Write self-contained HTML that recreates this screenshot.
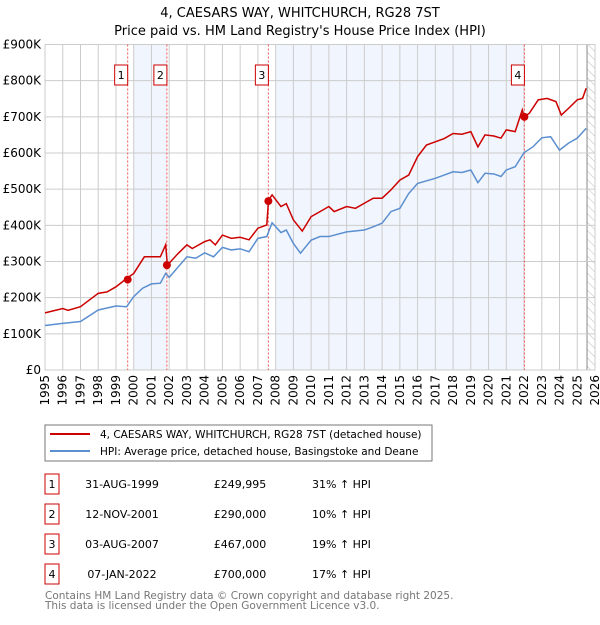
<!DOCTYPE html>
<html><head><meta charset="utf-8"><style>
body{margin:0;background:#fff;font-family:"Liberation Sans","DejaVu Sans",sans-serif;}
svg text{font-family:"DejaVu Sans","Liberation Sans",sans-serif;}
</style></head><body>
<svg id="c" width="600" height="620" xmlns="http://www.w3.org/2000/svg">
<defs><pattern id="hatch" width="6" height="6" patternUnits="userSpaceOnUse" patternTransform="rotate(-45)"><line x1="0" y1="0" x2="0" y2="6" stroke="#bbb" stroke-width="1"/></pattern></defs>
<text x="300" y="17" text-anchor="middle" font-size="13">4, CAESARS WAY, WHITCHURCH, RG28 7ST</text>
<text x="300" y="35" text-anchor="middle" font-size="13">Price paid vs. HM Land Registry's House Price Index (HPI)</text>
<g id="plot"></g>
<rect x="45" y="425" width="387" height="36" fill="#fff" stroke="#777"/>
<line x1="50" y1="434" x2="90" y2="434" stroke="#cc0000" stroke-width="2"/>
<text x="100" y="438" font-size="10.5">4, CAESARS WAY, WHITCHURCH, RG28 7ST (detached house)</text>
<line x1="50" y1="451" x2="90" y2="451" stroke="#5b8fd0" stroke-width="2"/>
<text x="100" y="455" font-size="10.5">HPI: Average price, detached house, Basingstoke and Deane</text>
<g id="table" font-size="11"></g>
<text x="45" y="599" font-size="10.5" fill="#777">Contains HM Land Registry data © Crown copyright and database right 2025.</text>
<text x="45" y="609" font-size="10.5" fill="#777">This data is licensed under the Open Government Licence v3.0.</text>
</svg>
<script>
const yTicks=[0,100,200,300,400,500,600,700,800,900];
const yTickLabels=["£0","£100K","£200K","£300K","£400K","£500K","£600K","£700K","£800K","£900K"];
const years=[1995,1996,1997,1998,1999,2000,2001,2002,2003,2004,2005,2006,2007,2008,2009,2010,2011,2012,2013,2014,2015,2016,2017,2018,2019,2020,2021,2022,2023,2024,2025,2026];
const redT=[1995,1996,1996.3,1997,1998,1998.5,1999,1999.6,2000,2000.6,2001.5,2001.8,2001.9,2002.5,2003,2003.3,2004,2004.3,2004.6,2005,2005.5,2006,2006.5,2007,2007.5,2007.6,2007.8,2008.3,2008.6,2009,2009.5,2010,2010.5,2011,2011.3,2012,2012.5,2013,2013.5,2014,2014.5,2015,2015.5,2016,2016.5,2017,2017.5,2018,2018.5,2019,2019.4,2019.8,2020.3,2020.7,2021,2021.5,2021.9,2022.0,2022.3,2022.8,2023.3,2023.8,2024.1,2024.5,2025,2025.3,2025.5];
const redV=[158,170,165,175,212,216,230,253,267,313,313,346,290,322,346,336,355,360,346,373,364,367,360,392,401,470,484,452,460,415,384,424,438,452,438,452,447,461,475,475,498,525,539,590,622,631,640,654,652,659,617,650,647,641,664,659,719,700,710,747,751,742,705,723,747,751,779];
const blueT=[1995,1996,1997,1998,1999,1999.6,2000,2000.5,2001,2001.5,2001.8,2002,2003,2003.5,2004,2004.5,2005,2005.5,2006,2006.5,2007,2007.5,2007.8,2008.3,2008.6,2009,2009.4,2010,2010.5,2011,2012,2013,2013.5,2014,2014.5,2015,2015.5,2016,2017,2017.5,2018,2018.5,2019,2019.4,2019.8,2020.3,2020.7,2021,2021.5,2022,2022.5,2023,2023.5,2024,2024.5,2025,2025.5];
const blueV=[123,129,134,166,177,175,203,226,238,240,267,256,313,309,324,313,339,332,335,327,364,369,407,380,387,350,323,359,369,369,382,387,396,406,438,447,488,516,530,539,548,546,553,518,544,542,535,553,562,601,617,642,645,608,627,641,668];
const saleLabels=["1","2","3","4"];
const saleT=[1999.66,2001.87,2007.59,2022.02];
const saleV=[249.995,290,467,700];
const saleDates=["31-AUG-1999","12-NOV-2001","03-AUG-2007","07-JAN-2022"];
const salePrices=["£249,995","£290,000","£467,000","£700,000"];
const saleHpi=["31% ↑ HPI","10% ↑ HPI","19% ↑ HPI","17% ↑ HPI"];
const shadeFrom=[2000,2008];const shadeTo=[2001.87,2022.02];

const NS="http://www.w3.org/2000/svg";
const X=t=>45+(t-1995)*(550/31);
const Y=v=>370-v*(325.5/900);
const plot=document.getElementById('plot');
function mk(tag,attrs,parent){const e=document.createElementNS(NS,tag);for(const k in attrs)e.setAttribute(k,attrs[k]);(parent||plot).appendChild(e);return e;}
for(let i=0;i<shadeFrom.length;i++){
 const r=mk('rect',{x:X(shadeFrom[i]),y:Y(900),width:X(shadeTo[i])-X(shadeFrom[i]),height:Y(0)-Y(900),fill:'#eef3fc',opacity:0.8});
 
 
}
const h=mk('rect',{x:X(2025.55),y:Y(900),width:X(2026)-X(2025.55),height:Y(0)-Y(900),fill:'url(#hatch)'});


mk('line',{x1:X(2025.55),x2:X(2025.55),y1:Y(900),y2:Y(0),stroke:'#888'});
years.forEach(y=>{
 const l=mk('line',{x1:X(y),x2:X(y),y1:Y(900),y2:Y(0),stroke:'#ccc'});
 
 
 const t=mk('text',{x:0,y:0,'font-size':12,'text-anchor':'end',transform:`translate(${X(y)+4},375) rotate(-90)`});
 t.textContent=y;
 
 
});
yTicks.forEach((v,i)=>{
 const l=mk('line',{x1:X(1995),x2:X(2026),y1:Y(v),y2:Y(v),stroke:'#ccc'});
 
 
 const t=mk('text',{x:41,y:Y(v)+4,'font-size':12,'text-anchor':'end'});
 t.textContent=yTickLabels[i];
 
 
});
mk('rect',{x:X(1995),y:Y(900),width:X(2026)-X(1995),height:Y(0)-Y(900),fill:'none',stroke:'#ccc'});
saleT.forEach((t,i)=>{
 const l=mk('line',{x1:X(t),x2:X(t),y1:Y(900),y2:Y(0),stroke:'#e55','stroke-dasharray':'2,2'});
 
 
 const b=mk('rect',{x:X(t)-13,y:65,width:13,height:20,fill:'#fff',stroke:'#c00'});
 
 
 const tx=mk('text',{x:X(t)-6.5,y:79,'font-size':11,'text-anchor':'middle'});
 tx.textContent=saleLabels[i];
 
 
});
const bp=mk('polyline',{points:blueT.map((t,i)=>X(t)+','+Y(blueV[i])).join(' '),fill:'none',stroke:'#5b8fd0','stroke-width':1.5});


const rp=mk('polyline',{points:redT.map((t,i)=>X(t)+','+Y(redV[i])).join(' '),fill:'none',stroke:'#cc0000','stroke-width':1.5});


saleT.forEach((t,i)=>{
 const c=mk('circle',{cx:X(t),cy:Y(saleV[i]),r:4,fill:'#cc0000'});
 
 
});
const tb=document.getElementById('table');
saleT.forEach((t,i)=>{
 const y=483+i*30;
 const b=mk('rect',{x:45,y:y-9,width:14,height:20,fill:'#fff',stroke:'#c00'},tb);
 
 
 const cols=[[52,saleLabels[i],'middle'],[122,saleDates[i],'middle'],[240,salePrices[i],'middle'],[312,saleHpi[i],'start']];
 cols.forEach((c,j)=>{
  const tx=mk('text',{x:c[0],y:y+5,'text-anchor':c[2]},tb);
  tx.textContent=c[1];
  
  
 });
});
</script>
</body></html>
